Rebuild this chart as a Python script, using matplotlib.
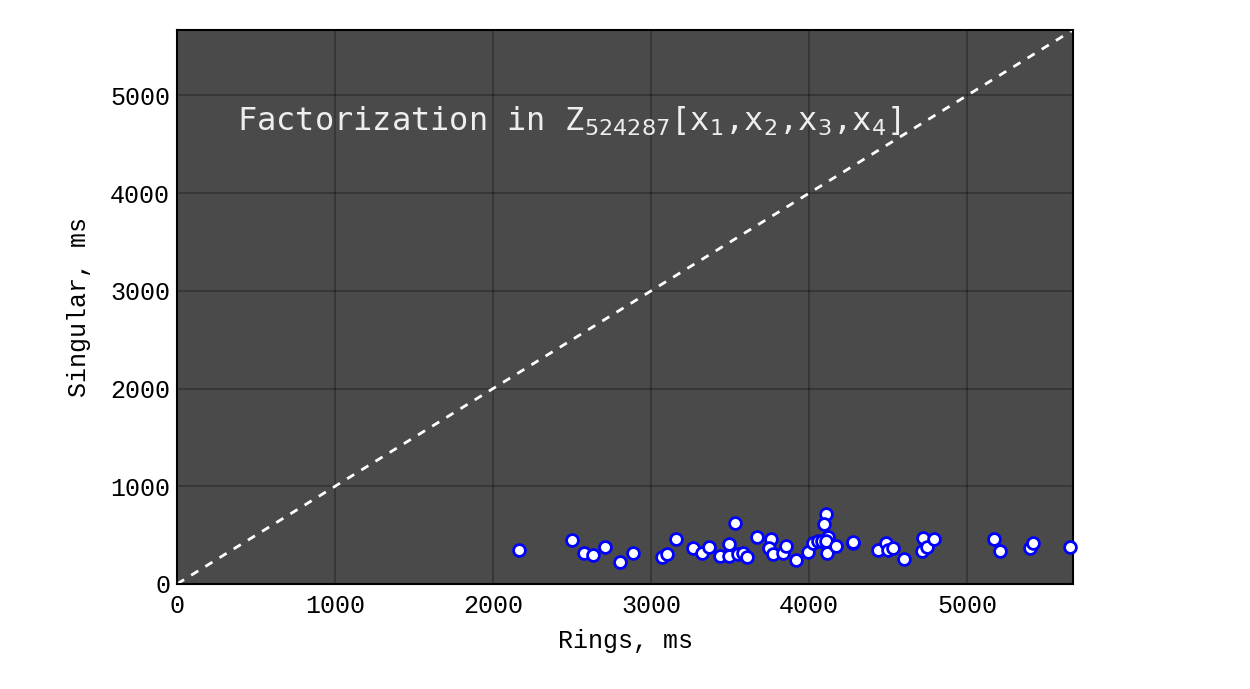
import matplotlib
matplotlib.use('Agg')
import matplotlib.pyplot as plt

rings = [2167, 2498, 2576, 2635, 2709, 2804, 2884, 3068, 3099, 3158,
         3264, 3321, 3365, 3437, 3490, 3490, 3528, 3553, 3582, 3606,
         3673, 3757, 3749, 3774, 3837, 3854, 3918, 3996, 4027, 4059,
         4080, 4108, 4095, 4122, 4108, 4112, 4171, 4276, 4280, 4439,
         4487, 4502, 4530, 4603, 4719, 4712, 4744, 4791, 5167, 5209,
         5395, 5420, 5652]
singular = [349, 451, 315, 297, 383, 229, 315, 280, 304, 458,
            373, 321, 376, 287, 291, 410, 622, 305, 315, 280,
            479, 458, 366, 308, 321, 390, 246, 331, 417, 444,
            444, 715, 612, 485, 444, 321, 390, 417, 432, 349,
            417, 349, 366, 256, 469, 338, 383, 458, 458, 338,
            373, 417, 383]

lim = 5670

fig = plt.figure(figsize=(12.5, 6.89), dpi=100)
ax = fig.add_axes([0.1416, 0.1524, 0.7168, 0.8041])
ax.set_facecolor('#4a4a4a')

# y = x reference line
ax.plot([0, lim], [0, lim], linestyle=(0, (3, 3)), color='white', linewidth=2)
ax.plot(rings, singular, 'o', markerfacecolor='white', markeredgecolor='blue',
        markersize=8.5, markeredgewidth=2, linestyle='none', clip_on=False, zorder=3)

ax.set_xlim(0, lim)
ax.set_ylim(0, lim)
ax.set_xticks([0, 1000, 2000, 3000, 4000, 5000])
ax.set_yticks([0, 1000, 2000, 3000, 4000, 5000])
ax.grid(True, color='black', alpha=0.3, linewidth=1.2)
ax.set_axisbelow(True)
ax.tick_params(length=0, labelsize=18)
ax.tick_params(axis='x', pad=7)
ax.tick_params(axis='y', pad=5)
for lbl in ax.get_xticklabels() + ax.get_yticklabels():
    lbl.set_family('Liberation Mono')
for s in ax.spines.values():
    s.set_linewidth(1.5)

ax.set_xlabel('Rings, ms', family='Liberation Mono', fontsize=18, labelpad=8)
ax.set_ylabel('Singular, ms', family='Liberation Mono', fontsize=18, labelpad=14)

ax.text(380, 4740, r'Factorization in Z$_{524287}$[x$_1$,x$_2$,x$_3$,x$_4$]',
        color='#eeeeee', fontsize=23, family='DejaVu Sans Mono', va='center')

plt.savefig('out.png', dpi=100)
